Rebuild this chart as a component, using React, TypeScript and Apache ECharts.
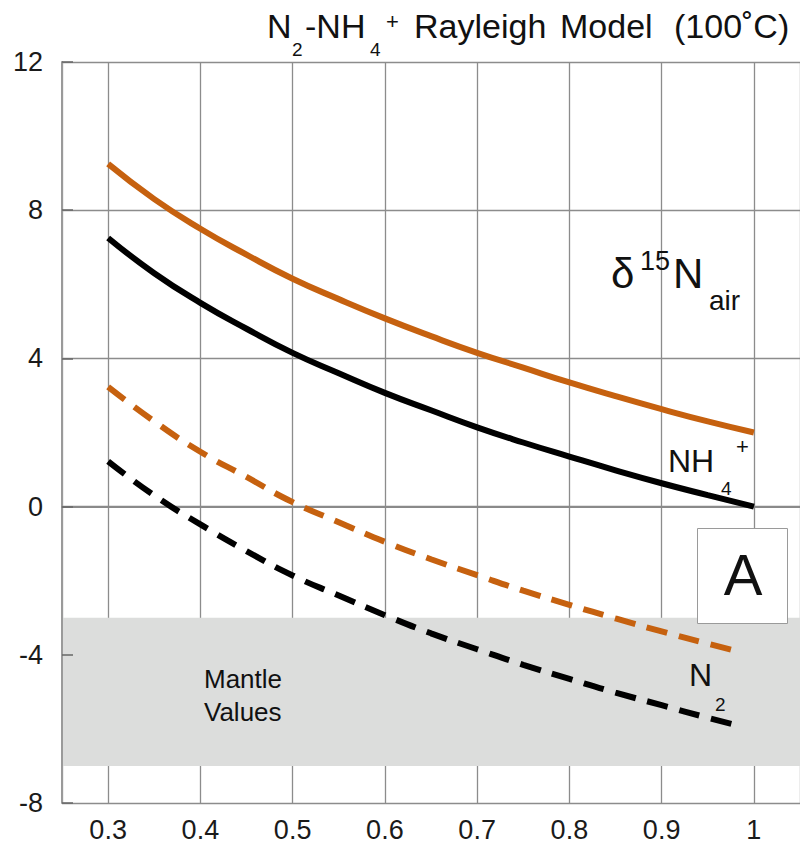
import React, { useEffect, useRef } from "react";
import * as echarts from "echarts";

// Fraction of NH4+ remaining (x) and δ15N values (y)
const fraction = [0.3, 0.35, 0.4, 0.45, 0.5, 0.55, 0.6, 0.65, 0.7, 0.75, 0.8, 0.85, 0.9, 0.95, 1.0];
const fractionDashed = [0.3, 0.35, 0.4, 0.45, 0.5, 0.55, 0.6, 0.65, 0.7, 0.75, 0.8, 0.85, 0.9, 0.95, 0.985];

const nh4Orange = [9.25, 8.3, 7.5, 6.8, 6.15, 5.6, 5.08, 4.6, 4.15, 3.75, 3.35, 2.98, 2.63, 2.3, 2.0];
const nh4Black = [7.25, 6.3, 5.5, 4.8, 4.15, 3.6, 3.07, 2.6, 2.14, 1.73, 1.35, 0.98, 0.63, 0.31, 0.0];
const n2Orange = [3.23, 2.3, 1.48, 0.8, 0.12, -0.42, -0.95, -1.42, -1.85, -2.27, -2.65, -3.02, -3.37, -3.7, -3.92];
const n2Black = [1.22, 0.3, -0.48, -1.2, -1.86, -2.4, -2.93, -3.42, -3.85, -4.27, -4.65, -5.02, -5.36, -5.7, -5.92];

const mantleRange = [-3, -7];
const xRange = [0.25, 1.05];
const yRange = [-8, 12];
const yTickStep = 4;

const ORANGE = "#c6610f";
const FONT = "'Liberation Sans', Arial, Helvetica, sans-serif";

function pairs(xs: number[], ys: number[]) {
  return xs.map((x, i) => [x, ys[i]]);
}

function txt(text: string, x: number, y: number, size: number, extra: any = {}) {
  return {
    type: "text",
    x,
    y,
    z: 100,
    style: {
      text,
      fontSize: size,
      fontFamily: FONT,
      fill: "#111",
      verticalAlign: "middle",
      align: "left",
      ...extra,
    },
  };
}

export default function App() {
  const ref = useRef<HTMLDivElement>(null);

  useEffect(() => {
    if (!ref.current) return;
    const chart = echarts.init(ref.current, undefined, { renderer: "svg" });
    const option: any = {
      animation: false,
      backgroundColor: "#ffffff",
      grid: { left: 62, top: 62, right: -3, bottom: 48 },
      xAxis: {
        type: "value",
        min: xRange[0],
        max: xRange[1],
        splitNumber: 8,
        z: 1,
        axisLine: { show: true, lineStyle: { color: "#8a8a8a", width: 2 } },
        axisTick: { show: false },
        splitLine: { show: true, lineStyle: { color: "#8c8c8c", width: 1.3 } },
        axisLabel: {
          showMinLabel: false,
          showMaxLabel: false,
          margin: 13,
          fontSize: 27,
          fontFamily: FONT,
          color: "#1a1a1a",
          formatter: (v: number) => String(Math.round(v * 10) / 10),
        },
      },
      yAxis: {
        type: "value",
        min: yRange[0],
        max: yRange[1],
        interval: yTickStep,
        z: 1,
        axisLine: { show: true, lineStyle: { color: "#9a9a9a", width: 2 } },
        axisTick: { show: true, inside: true, length: 11, lineStyle: { color: "#666", width: 1.5 } },
        splitLine: { show: true, lineStyle: { color: "#8c8c8c", width: 1.3 } },
        axisLabel: {
          margin: 19,
          fontSize: 27,
          fontFamily: FONT,
          color: "#1a1a1a",
        },
      },
      series: [
        {
          type: "line",
          data: [],
          z: 0,
          silent: true,
          markArea: {
            silent: true,
            itemStyle: { color: "#dcdddc" },
            data: [[{ xAxis: xRange[0], yAxis: mantleRange[0] }, { xAxis: xRange[1], yAxis: mantleRange[1] }]],
          },
        },
        {
          type: "line",
          name: "NH4+ (orange)",
          data: pairs(fraction, nh4Orange),
          smooth: true,
          symbol: "none",
          z: 3,
          lineStyle: { color: ORANGE, width: 6, cap: "butt" },
        },
        {
          type: "line",
          name: "NH4+ (black)",
          data: pairs(fraction, nh4Black),
          smooth: true,
          symbol: "none",
          z: 3,
          lineStyle: { color: "#000", width: 6, cap: "butt" },
        },
        {
          type: "line",
          name: "N2 (orange)",
          data: pairs(fractionDashed, n2Orange),
          smooth: true,
          symbol: "none",
          z: 3,
          lineStyle: { color: ORANGE, width: 6, type: [21, 12], cap: "butt" },
        },
        {
          type: "line",
          name: "N2 (black)",
          data: pairs(fractionDashed, n2Black),
          smooth: true,
          symbol: "none",
          z: 3,
          lineStyle: { color: "#000", width: 6, type: [21, 12], cap: "butt" },
        },
      ],
      graphic: [
        // Title
        txt("N", 267, 26, 34),
        txt("2", 292, 49, 19),
        txt("-NH", 305, 26, 34),
        txt("4", 370, 49, 19),
        txt("+", 386, 21, 22),
        txt("Rayleigh", 414, 26, 34),
        txt("Model", 560, 26, 34),
        txt("(100˚C)", 674, 26, 34),
        // δ15N air
        txt("δ", 611, 273, 42),
        txt("15", 640, 261, 27),
        txt("N", 673, 273, 42),
        txt("air", 709, 300, 28),
        // NH4+ label
        txt("NH", 668, 461, 32),
        txt("4", 721, 488, 19),
        txt("+", 736, 446, 22),
        // N2 label
        txt("N", 689, 675, 32),
        txt("2", 715, 704, 19),
        // Box A
        {
          type: "rect",
          z: 90,
          shape: { x: 697.5, y: 528.5, width: 90, height: 95 },
          style: { fill: "#fff", stroke: "#9a9a9a", lineWidth: 1 },
        },
        txt("A", 743, 574, 58, { align: "center" }),
        // Mantle values
        txt("Mantle", 204, 679, 26),
        txt("Values", 204, 712, 26),
      ],
    };
    chart.setOption(option);
    return () => chart.dispose();
  }, []);

  return (
    <div
      ref={ref}
      style={{ position: "fixed", left: 0, top: 0, width: 800, height: 851, background: "#fff" }}
    />
  );
}
